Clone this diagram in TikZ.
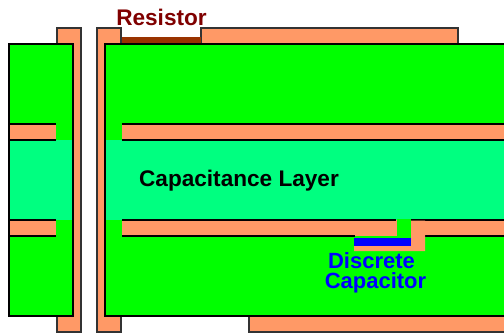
\documentclass[tikz,border=0pt]{standalone}
\usepackage{fontspec}
\setmainfont{Liberation Sans}
\definecolor{copper}{HTML}{FF9966}
\definecolor{coreGreen}{HTML}{00FF00}
\definecolor{capGreen}{HTML}{00FF80}
\definecolor{resBrown}{HTML}{993300}
\definecolor{resText}{HTML}{800000}
\definecolor{capBlue}{HTML}{0000FF}
\begin{document}
\begin{tikzpicture}[x=1pt, y=-1pt, every node/.style={font=\bfseries\fontsize{22.6}{22.6}\selectfont, inner sep=0pt},
    outline/.style={draw=black!80, line width=1.4pt},
    edge/.style={draw=black, line width=1.2pt},
    caplabel/.style={text=capBlue, anchor=base, font=\bfseries\fontsize{22}{22}\selectfont}]
    \useasboundingbox[fill=white] (0,0) rectangle (504,335);

    % Copper on the outer faces and via barrels
    \fill[copper] (201,28) rectangle (458,44);
    \draw[outline] (201,44) -- (201,28) -- (458,28) -- (458,44);
    \fill[copper] (249,316) rectangle (504,332);
    \draw[outline] (504,332) -- (249,332) -- (249,316);
    \filldraw[fill=copper, outline] (57,44) -- (57,28) -- (81,28) -- (81,332) -- (57,332) -- (57,316) -- cycle;
    \filldraw[fill=copper, outline] (121,44) -- (121,28) -- (97,28) -- (97,332) -- (121,332) -- (121,316) -- cycle;

    % Resistor
    \fill[resBrown] (122,37) rectangle (201,44);

    % Two boards
    \filldraw[fill=coreGreen, edge] (73,44) -- (9,44) -- (9,316) -- (73,316) -- cycle;
    \fill[coreGreen] (105,44) rectangle (504,316);
    \draw[edge] (504,44) -- (105,44) -- (105,316) -- (504,316);

    % Capacitance layer
    \fill[capGreen] (9.6,140) rectangle (72.4,220);
    \fill[capGreen] (105.6,140) rectangle (504,220);

    % Copper planes
    \fill[copper] (9.6,124) rectangle (56,140);
    \fill[copper] (9.6,220) rectangle (56,236);
    \fill[copper] (122,124) rectangle (504,140);
    \fill[copper] (122,220) rectangle (504,236);
    \draw[edge] (9,124) -- (56,124) (9,140) -- (56,140);
    \draw[edge] (9,220) -- (56,220) (9,236) -- (56,236);
    \draw[edge] (122,124) -- (504,124) (122,140) -- (504,140);
    \draw[edge] (122,220) -- (396,220) (411,220) -- (504,220);
    \draw[edge] (122,236) -- (355,236) (425,236) -- (504,236);

    % Discrete capacitor
    \fill[coreGreen] (396.5,219.4) rectangle (411,237);
    \fill[copper] (411,220.6) -| (425,251) -| (354,245) -| (411,220.6) -- cycle;
    \fill[capBlue] (354,237.5) rectangle (411,245.5);

    % Labels
    \node[text=resText, anchor=base] (resistor) at (161.5,25) {Resistor};
    \node[text=black, anchor=base] (caplayer) at (239,186) {Capacitance Layer};
    \node[caplabel] (discrete) at (371.5,268.8) {Discrete};
    \node[caplabel] (capacitor) at (375.5,288) {Capacitor};
\end{tikzpicture}
\end{document}
